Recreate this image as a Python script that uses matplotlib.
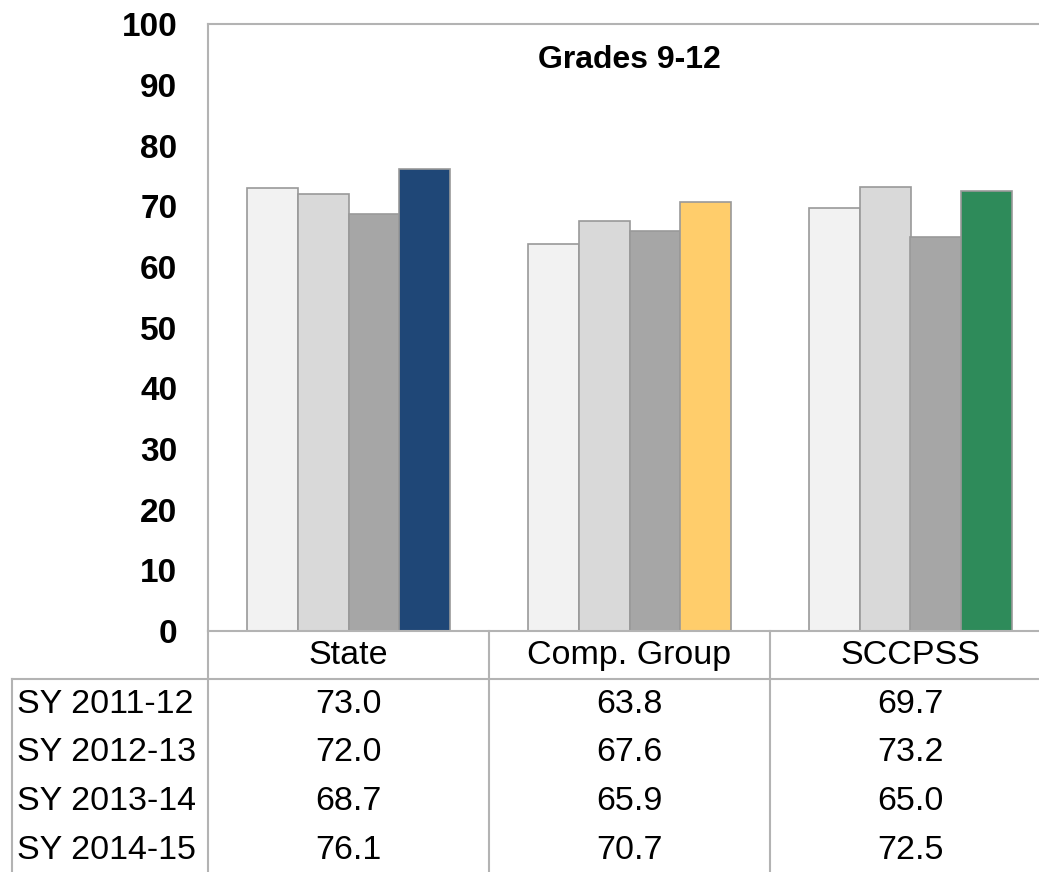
import numpy as np
import matplotlib.pyplot as plt
from matplotlib.lines import Line2D
from matplotlib.transforms import blended_transform_factory

plt.rcParams['font.family'] = ['Liberation Sans', 'DejaVu Sans']

groups = ["State", "Comp. Group", "SCCPSS"]
years = ["SY 2011-12", "SY 2012-13", "SY 2013-14", "SY 2014-15"]
values = [
    [73.0, 63.8, 69.7],
    [72.0, 67.6, 73.2],
    [68.7, 65.9, 65.0],
    [76.1, 70.7, 72.5],
]
yticks = [0, 10, 20, 30, 40, 50, 60, 70, 80, 90, 100]

year_colors = ["#f2f2f2", "#d9d9d9", "#a6a6a6"]
last_colors = ["#1f4777", "#ffcd6b", "#2e8b5a"]
line_col = "#b3b3b3"

W, H = 1039, 872
fig = plt.figure(figsize=(W / 100, H / 100), dpi=100)
# plot area in pixels: left 208, top 24.5, bottom 631, category width 281
ax = fig.add_axes([208 / W, (H - 631) / H, 843 / W, 606.5 / H])

x = np.arange(len(groups))
bw = 0.18
for i, row in enumerate(values):
    cols = [year_colors[i]] * 3 if i < 3 else last_colors
    ax.bar(x + (i - 1.5) * bw, row, bw, color=cols, edgecolor="#999999", linewidth=1.2)

ax.set_xlim(-0.5, 2.5)
ax.set_ylim(0, 100)
ax.set_yticks(yticks)
ax.set_yticklabels([str(t) for t in yticks], fontsize=24, fontweight="bold")
ax.tick_params(axis="y", length=0, pad=22)
ax.set_xticks([])
for s in ["top", "left", "bottom"]:
    ax.spines[s].set_color(line_col)
    ax.spines[s].set_linewidth(1.5)
ax.spines["right"].set_visible(False)

ax.text(0.5, 0.9415, "Grades 9-12", transform=ax.transAxes, ha="center", va="center",
        fontsize=23, fontweight="bold")

# data table below the plot
trans = blended_transform_factory(ax.transData, ax.transAxes)


def yfrac(py):
    return (631 - py) / 606.5


for j, g in enumerate(groups):
    ax.text(j, yfrac(655), g, transform=trans, ha="center", va="center",
            fontsize=24.5, clip_on=False)

row_y = [704, 752, 801, 850]
for i, yr in enumerate(years):
    fig.text(17 / W, 1 - row_y[i] / H, yr, ha="left", va="center", fontsize=24.5)
    for j in range(len(groups)):
        ax.text(j, yfrac(row_y[i]), f"{values[i][j]:.1f}", transform=trans,
                ha="center", va="center", fontsize=24.5, clip_on=False)


def hline(px0, px1, py):
    fig.add_artist(Line2D([px0 / W, px1 / W], [1 - py / H, 1 - py / H],
                          transform=fig.transFigure, color=line_col, lw=1.5))


def vline(px, py0, py1):
    fig.add_artist(Line2D([px / W, px / W], [1 - py0 / H, 1 - py1 / H],
                          transform=fig.transFigure, color=line_col, lw=1.5))


hline(12, W, 678.5)
vline(12, 678.5, H)
vline(208, 631, H)
vline(489, 631, H)
vline(770, 631, H)

fig.savefig("out.png", dpi=100)
